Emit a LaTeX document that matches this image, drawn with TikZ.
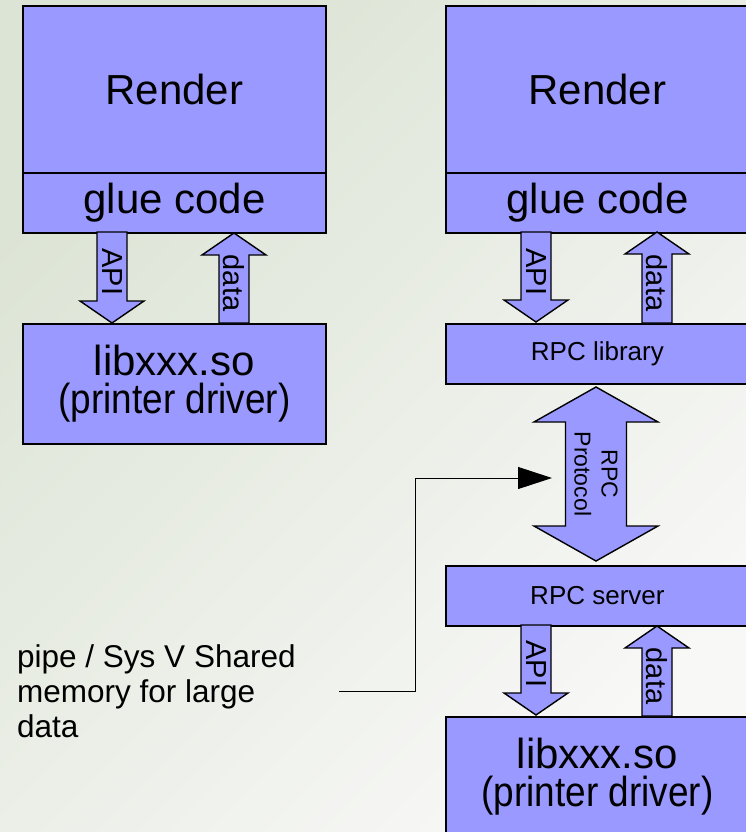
\documentclass[tikz,border=0pt]{standalone}
\usepackage{fontspec}
\usepackage{graphicx}
\setmainfont{Liberation Sans}
\usetikzlibrary{arrows.meta}

\definecolor{boxblue}{HTML}{9999FF}
\definecolor{bgA}{HTML}{DCE4D5}
\definecolor{bgB}{HTML}{F8F8F7}

% vertical block arrows: x centre, foot, tip
\newcommand\blockdown[3]{%
  \draw[blk] (#1-15,#2) -- (#1+15,#2) -- (#1+15,#3-22) -- (#1+32,#3-22)
    -- (#1,#3) -- (#1-32,#3-22) -- (#1-15,#3-22) -- cycle;}
\newcommand\blockup[3]{%
  \draw[blk] (#1-15,#2) -- (#1-15,#3+22) -- (#1-32,#3+22) -- (#1,#3)
    -- (#1+32,#3+22) -- (#1+15,#3+22) -- (#1+15,#2) -- cycle;}
% driver caption, set a little narrower than the library name
\newcommand\drivertext{libxxx.so\\\scalebox{0.88}[1]{(printer driver)}}

\begin{document}
\begin{tikzpicture}[x=1pt,y=-1pt,
  box/.style={draw=black, line width=1.8pt, fill=boxblue, inner sep=0pt,
    anchor=north west, minimum width=303pt},
  blk/.style={draw=black, line width=1.4pt, fill=boxblue, line join=miter},
  big/.style={font=\fontsize{42}{38}\selectfont, align=center},
  mid/.style={font=\fontsize{26}{30}\selectfont},
  lbl/.style={font=\fontsize{29}{30}\selectfont, rotate=-90, inner sep=0pt},
]
\useasboundingbox (0,0) rectangle (746,832);
\clip (0,0) rectangle (746,832);
\shade[top color=bgA, bottom color=bgB, shading angle=45] (0,0) rectangle (746,832);

% left stack: direct library use
\node[box, big, minimum height=167pt] (renderL) at (22,5) {Render};
\node[box, big, minimum height=60pt] (glueL) at (22,172) {glue code};
\node[box, big, minimum height=120pt] (libL) at (22,323) {\drivertext};

\blockdown{112}{232}{323}
\blockup{234}{323}{233}
\node[lbl] (apiL) at (112.5,272) {API};
\node[lbl] (dataL) at (233.5,283) {data};

% right stack: library behind an RPC server
\node[box, big, minimum height=167pt] (renderR) at (445,5) {Render};
\node[box, big, minimum height=60pt] (glueR) at (445,172) {glue code};
\node[box, mid, minimum height=60pt] (rpclib) at (445,323) {RPC library};
\node[box, mid, minimum height=60pt] (rpcsrv) at (445,565) {RPC server};
\node[box, big, minimum height=120pt] (libR) at (445,716) {\drivertext};

\blockdown{536}{232}{322}
\blockup{657}{323}{232}
\node[lbl] (apiR) at (536,272) {API};
\node[lbl] (dataR) at (657,283) {data};

\blockdown{536}{625}{715}
\blockup{657}{716}{626}
\node[lbl] (apiS) at (536,664) {API};
\node[lbl] (dataS) at (657,676) {data};

% two-headed protocol arrow
\draw[blk] (596,387) -- (658,422) -- (626.5,422) -- (626.5,526) -- (658,526)
  -- (596,561) -- (534,526) -- (565.5,526) -- (565.5,422) -- (534,422) -- cycle;
\node[font=\fontsize{23}{27}\selectfont, rotate=-90, align=center, inner sep=0pt]
  (proto) at (596,474) {RPC\\Protocol};

% side note
\node[font=\fontsize{31.5}{35}\selectfont, align=left, anchor=north west, inner sep=0pt]
  (note) at (17,644) {pipe / Sys V Shared\\memory for large\\data};
\coordinate (noteEnd) at (339,691);
\coordinate (bend1) at (415,691);
\coordinate (bend2) at (415,478);
\coordinate (target) at (552,478);
\draw[line width=0.9pt, black, -{Triangle[length=34pt,width=22pt]}]
  (noteEnd) -- (bend1) -- (bend2) -- (target);
\end{tikzpicture}
\end{document}
